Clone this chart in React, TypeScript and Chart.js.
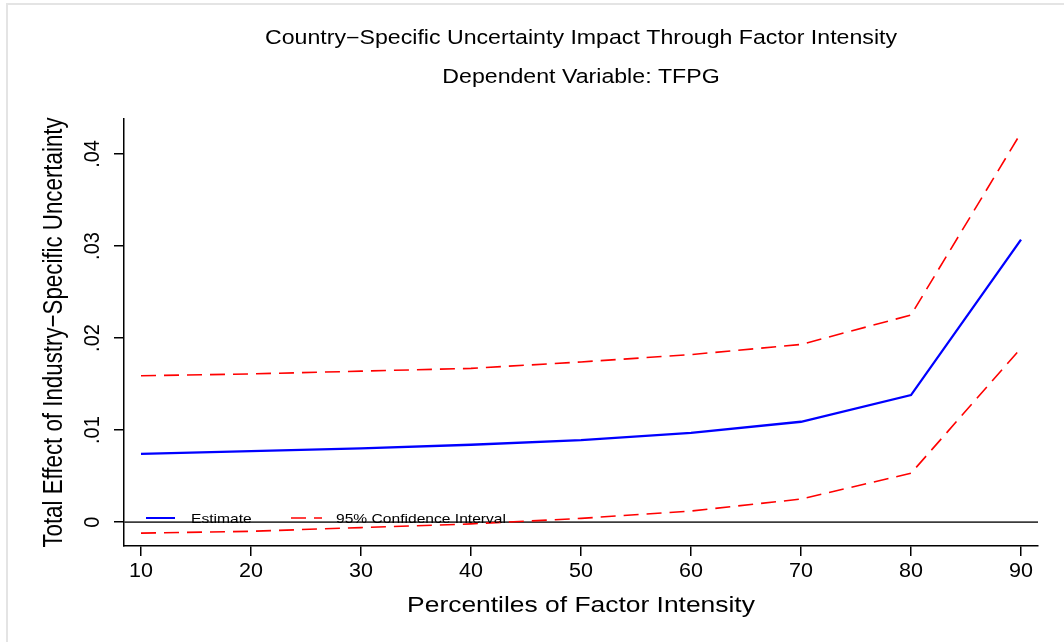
import React, { useEffect, useRef } from "react";
import { Chart, registerables } from "chart.js";

Chart.register(...registerables);

// Margin plot: total effect of uncertainty across factor-intensity percentiles
const percentiles = [10, 20, 30, 40, 50, 60, 70, 80, 90];
const estimate = [0.0074, 0.0077, 0.008, 0.0084, 0.0089, 0.0097, 0.0109, 0.0138, 0.0307];
const upperCI = [0.0159, 0.0161, 0.0164, 0.0167, 0.0174, 0.0182, 0.0193, 0.0225, 0.0423];
const lowerCI = [-0.0012, -0.001, -0.0006, -0.0002, 0.0004, 0.0012, 0.0025, 0.0053, 0.0189];

const xTickValues = [10, 20, 30, 40, 50, 60, 70, 80, 90];
const xTickLabels = ["10", "20", "30", "40", "50", "60", "70", "80", "90"];
const yTickValues = [0, 0.01, 0.02, 0.03, 0.04];
const yTickLabels = ["0", ".01", ".02", ".03", ".04"];

const titleText = "Country\u2212Specific Uncertainty Impact Through Factor Intensity";
const subtitleText = "Dependent Variable: TFPG";
const xTitle = "Percentiles of Factor Intensity";
const yTitle = "Total Effect of Industry\u2212Specific Uncertainty";
const legendEstimate = "Estimate";
const legendCI = "95% Confidence Interval";

const FONT = '"Liberation Sans", Arial, Helvetica, sans-serif';

// Draws text with an optional horizontal stretch; rotated text reads bottom-to-top.
function drawText(
  ctx: CanvasRenderingContext2D,
  text: string,
  x: number,
  y: number,
  size: number,
  align: CanvasTextAlign,
  sx: number,
  rotate = false
) {
  ctx.save();
  ctx.translate(x, y);
  ctx.scale(sx, 1);
  if (rotate) ctx.rotate(-Math.PI / 2);
  ctx.font = `${size}px ${FONT}`;
  ctx.fillStyle = "#000";
  ctx.textAlign = align;
  ctx.textBaseline = "alphabetic";
  ctx.fillText(text, 0, 0);
  ctx.restore();
}

const decorPlugin = {
  id: "decor",
  beforeDraw(chart: any) {
    const ctx = chart.ctx as CanvasRenderingContext2D;
    ctx.save();
    ctx.fillStyle = "#fff";
    ctx.fillRect(0, 0, chart.width, chart.height);
    ctx.strokeStyle = "#e4e4e4";
    ctx.lineWidth = 2;
    ctx.beginPath();
    ctx.moveTo(7, chart.height);
    ctx.lineTo(7, 4);
    ctx.lineTo(chart.width, 4);
    ctx.stroke();
    ctx.restore();
  },
  beforeDatasetsDraw(chart: any) {
    const ctx = chart.ctx as CanvasRenderingContext2D;
    const { left, right } = chart.chartArea;
    const y0 = chart.scales.y.getPixelForValue(0);
    ctx.save();
    ctx.strokeStyle = "#3c3c3c";
    ctx.lineWidth = 1.8;
    ctx.beginPath();
    ctx.moveTo(left, y0);
    ctx.lineTo(right, y0);
    ctx.stroke();
    ctx.restore();
  },
  afterDraw(chart: any) {
    const ctx = chart.ctx as CanvasRenderingContext2D;
    const xs = chart.scales.x;
    const ys = chart.scales.y;
    const area = chart.chartArea;
    const cx = (area.left + area.right) / 2;
    const cy = (area.top + area.bottom) / 2;

    drawText(ctx, titleText, cx, 44, 19.3, "center", 1.2);
    drawText(ctx, subtitleText, cx, 83, 19.3, "center", 1.2);

    xTickValues.forEach((v, i) => {
      drawText(ctx, xTickLabels[i], xs.getPixelForValue(v), 577, 20.5, "center", 1.05);
    });
    yTickValues.forEach((v, i) => {
      drawText(ctx, yTickLabels[i], 99, ys.getPixelForValue(v), 20, "center", 1.1, true);
    });

    drawText(ctx, xTitle, cx, 612, 22.2, "center", 1.19);
    drawText(ctx, yTitle, 62, cy, 22.3, "center", 1.25, true);

    // legend inside the plot region
    ctx.save();
    ctx.lineWidth = 2;
    ctx.strokeStyle = "#0000ff";
    ctx.beginPath();
    ctx.moveTo(146, 518);
    ctx.lineTo(175, 518);
    ctx.stroke();
    ctx.strokeStyle = "#ff0000";
    ctx.lineWidth = 1.5;
    ctx.setLineDash([15, 8]);
    ctx.beginPath();
    ctx.moveTo(291, 518);
    ctx.lineTo(322, 518);
    ctx.stroke();
    ctx.restore();
    drawText(ctx, legendEstimate, 191, 523, 13, "left", 1.2);
    drawText(ctx, legendCI, 336, 523, 13, "left", 1.2);
  },
};

export default function App() {
  const canvasRef = useRef<HTMLCanvasElement | null>(null);

  useEffect(() => {
    if (!canvasRef.current) return;
    const toPts = (vals: number[]) => percentiles.map((p, i) => ({ x: p, y: vals[i] }));
    const chart = new Chart(canvasRef.current, {
      type: "line",
      data: {
        datasets: [
          {
            label: legendEstimate,
            data: toPts(estimate),
            borderColor: "#0000ff",
            borderWidth: 2.3,
            pointRadius: 0,
            tension: 0,
            fill: false,
          },
          {
            label: legendCI,
            data: toPts(upperCI),
            borderColor: "#ff0000",
            borderWidth: 1.6,
            borderDash: [15, 8],
            pointRadius: 0,
            tension: 0,
            fill: false,
          },
          {
            label: legendCI + " (lower)",
            data: toPts(lowerCI),
            borderColor: "#ff0000",
            borderWidth: 1.6,
            borderDash: [15, 8],
            pointRadius: 0,
            tension: 0,
            fill: false,
          },
        ],
      },
      options: {
        responsive: false,
        animation: false,
        events: [],
        layout: { padding: { left: 114, right: 26, top: 119, bottom: 86 } },
        plugins: {
          legend: { display: false },
          title: { display: false },
          tooltip: { enabled: false },
        },
        scales: {
          x: {
            type: "linear",
            min: 8.4545,
            max: 91.5455,
            afterBuildTicks: (scale: any) => {
              scale.ticks = xTickValues.map((v) => ({ value: v }));
            },
            ticks: { display: false },
            grid: {
              drawOnChartArea: false,
              drawTicks: true,
              tickLength: 10,
              color: "#000",
              lineWidth: 1.5,
            },
            border: { display: true, color: "#000", width: 1.5 },
          },
          y: {
            type: "linear",
            min: -0.0026,
            max: 0.0438,
            afterBuildTicks: (scale: any) => {
              scale.ticks = yTickValues.map((v) => ({ value: v }));
            },
            ticks: { display: false },
            grid: {
              drawOnChartArea: false,
              drawTicks: true,
              tickLength: 10,
              color: "#000",
              lineWidth: 1.5,
            },
            border: { display: true, color: "#000", width: 1.5 },
          },
        },
      },
      plugins: [decorPlugin],
    });
    return () => chart.destroy();
  }, []);

  return (
    <canvas
      ref={canvasRef}
      width={1064}
      height={642}
      style={{ position: "fixed", left: 0, top: 0, width: 1064, height: 642 }}
    />
  );
}
